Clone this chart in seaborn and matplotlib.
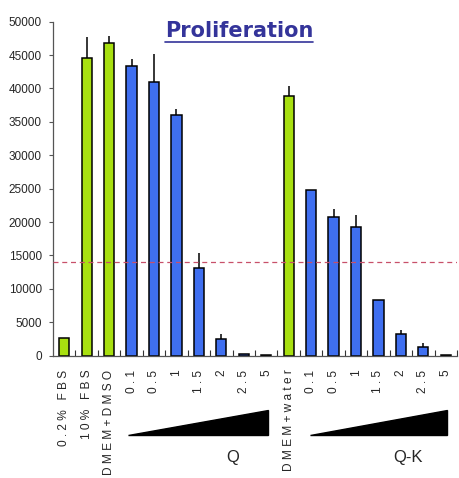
import matplotlib
matplotlib.use("Agg")
import matplotlib.pyplot as plt
import matplotlib.transforms as mtransforms
from matplotlib.patches import Polygon
import numpy as np
import pandas as pd
import seaborn as sns

# Treatment groups along the x axis
labels = ["0.2% FBS", "10% FBS", "DMEM+DMSO",
          "0.1", "0.5", "1", "1.5", "2", "2.5", "5",
          "DMEM+water",
          "0.1", "0.5", "1", "1.5", "2", "2.5", "5"]
# cell counts (mean) and upper error
counts = [2700, 44500, 46800,
          43400, 40900, 36100, 13100, 2500, 250, 80,
          38900,
          24800, 20700, 19300, 8400, 3200, 1300, 50]
errors = [0, 3200, 1000,
          1000, 4200, 900, 2300, 700, 0, 0,
          1400,
          0, 1300, 1700, 0, 600, 550, 0]
groups = ["control", "control", "control",
          "drug", "drug", "drug", "drug", "drug", "drug", "drug",
          "control",
          "drug", "drug", "drug", "drug", "drug", "drug", "drug"]
threshold = 14000
y_ticks = list(range(0, 50001, 5000))
drug_names = ["Q", "Q-K"]

palette = {"control": "#a8e010", "drug": "#3f6ff0"}

sns.set_theme(style="white")
plt.rcParams["font.family"] = ["Liberation Sans", "DejaVu Sans"]

fig = plt.figure(figsize=(4.59, 4.78), dpi=100)
ax = fig.add_axes([53 / 459, (478 - 355.7) / 478, 404 / 459, 334 / 478])

df = pd.DataFrame({"slot": [f"{i}" for i in range(len(labels))],
                   "count": counts, "group": groups})
sns.barplot(data=df, x="slot", y="count", hue="group", palette=palette,
            dodge=False, width=0.46, edgecolor="black", linewidth=1.1,
            saturation=1, legend=False, ax=ax, errorbar=None)

# upper-only error bars
xpos = np.arange(len(labels))
err = np.array(errors)
mask = err > 0
ax.errorbar(xpos[mask], np.array(counts)[mask],
            yerr=[np.zeros(mask.sum()), err[mask]],
            fmt="none", ecolor="black", elinewidth=1.1, capsize=0, zorder=3)

ax.axhline(threshold, color="#c8506a", lw=0.9, dashes=(4, 3), zorder=4)

ax.set_xlim(-0.5, len(labels) - 0.5)
ax.set_ylim(0, 50000)
ax.set_xlabel("")
ax.set_ylabel("")

# y axis
ax.set_yticks(y_ticks)
ax.set_yticklabels([str(v) for v in y_ticks], fontsize=8.5)
ax.tick_params(axis="y", direction="out", length=3, width=0.8,
               color="#555555", pad=5, left=True)

# x axis: spaced, vertical labels; ticks between categories
def spaced(s):
    return " ".join(list(s))

ax.set_xticks(xpos)
ax.set_xticklabels([spaced(s) for s in labels], rotation=90,
                   fontsize=8.6, va="top", ha="center")
ax.tick_params(axis="x", which="major", length=0, pad=10)
ax.set_xticks(np.append(xpos[1:] - 0.5, len(labels) - 0.5), minor=True)
ax.tick_params(axis="x", which="minor", direction="in", length=4,
               width=0.8, color="#333333", bottom=True)

for side in ["top", "right"]:
    ax.spines[side].set_visible(False)
for side in ["left", "bottom"]:
    ax.spines[side].set_color("#555555")
    ax.spines[side].set_linewidth(0.9)

# concentration wedges below the labels
trans = mtransforms.blended_transform_factory(ax.transData, ax.transAxes)
for x0, x1 in [(2.82, 9.1), (10.95, 17.05)]:
    ax.add_patch(Polygon([(x0, -0.237), (x1, -0.237), (x1, -0.162)],
                         closed=True, facecolor="black", edgecolor="black",
                         transform=trans, clip_on=False))
for xc, name in zip([7.5, 15.3], drug_names):
    ax.text(xc, -0.305, name, transform=trans, ha="center", va="center",
            fontsize=12)

# title
title = fig.text(239 / 459, 1 - 31 / 478, "Proliferation", ha="center",
                 va="center", fontsize=15, fontweight="bold",
                 color="#34349a", fontfamily=["DejaVu Sans"])
fig.canvas.draw()
bb = title.get_window_extent()
fig.add_artist(plt.Line2D([bb.x0 / fig.bbox.width, bb.x1 / fig.bbox.width],
                          [(bb.y0 - 1) / fig.bbox.height] * 2,
                          color="#34349a", lw=1.2,
                          transform=fig.transFigure))

fig.savefig("out.png", dpi=100)
